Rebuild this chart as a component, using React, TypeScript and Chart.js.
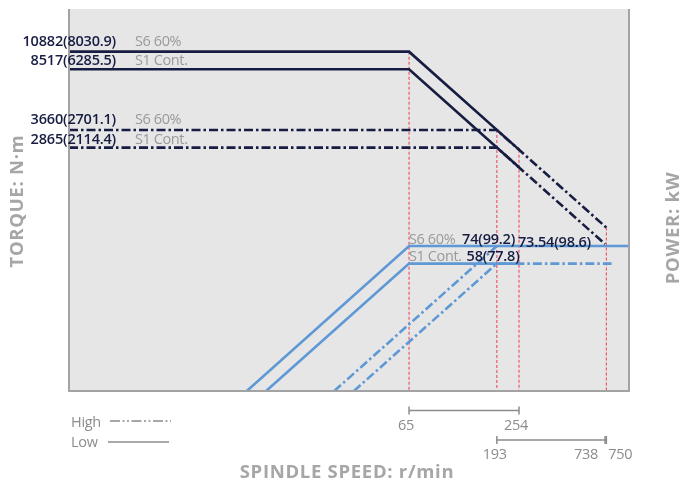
import React, { useEffect, useRef } from "react";
import { Chart, registerables } from "chart.js";
Chart.register(...registerables);

// axis ranges (log-log schematic)
const SPEED_MIN = 0.96;
const SPEED_MAX = 993;
const TORQUE_MIN = 97;
const TORQUE_MAX = 19700;
const POWER_MIN = 9.86;
const POWER_MAX = 2000;

// torque curves: [speed r/min, torque N·m]
const lowTorqueS6 = [[SPEED_MIN, 10882], [65, 10882], [254, 2785]];
const lowTorqueS1 = [[SPEED_MIN, 8517], [65, 8517], [254, 2180]];
const highTorqueS6 = [[SPEED_MIN, 3660], [193, 3660], [750, 942]];
const highTorqueS1 = [[SPEED_MIN, 2865], [193, 2865], [738, 749]];

// power curves: [speed r/min, power kW]
const lowPowerS6 = [[8.7, POWER_MIN], [65, 74], [SPEED_MAX, 74]];
const lowPowerS1 = [[11.05, POWER_MIN], [65, 58], [254, 58]];
const highPowerS6 = [[25.7, POWER_MIN], [193, 74]];
const highPowerS1 = [[32.8, POWER_MIN], [193, 58], [800, 58]];

// torque labels
const torqueLabelValues = [10882, 8517, 3660, 2865];
const torqueLabelTexts = ["10882(8030.9)", "8517(6285.5)", "3660(2701.1)", "2865(2114.4)"];
const dutyLabels = ["S6 60%", "S1 Cont.", "S6 60%", "S1 Cont."];

// power labels
const powerLabelValues = [74, 58];
const powerLabelTexts = ["74(99.2)", "58(77.8)"];
const powerDuty = ["S6 60%", "S1 Cont."];
const powerHighLabel = "73.54(98.6)";

// speed ticks
const lowRange = [65, 254];
const highRange = [193, 738, 750];

const NAVY = "#171c42";
const BLUE = "#5e99d6";
const RED = "rgba(236,60,82,0.9)";
const GRAY_TEXT = "#9a9a9a";
const DASHDOT = [9, 3, 2.5, 3];
const FONT = "'Open Sans'";

const toPts = (arr: number[][]) => arr.map(([x, y]) => ({ x, y }));

export default function App() {
  const ref = useRef<HTMLCanvasElement | null>(null);
  useEffect(() => {
    const canvas = ref.current!;
    const line = (data: number[][], color: string, axis: string, dash: number[] = [], width = 2.6) => ({
      data: toPts(data),
      borderColor: color,
      borderWidth: width,
      borderDash: dash,
      pointRadius: 0,
      fill: false,
      tension: 0,
      yAxisID: axis,
      borderCapStyle: "butt" as const,
    });
    const red = (speed: number, top: number) =>
      line([[speed, top], [speed, TORQUE_MIN]], RED, "yT", [3, 2], 1.1);

    const deco = {
      id: "deco",
      beforeDatasetsDraw(chart: any) {
        const { ctx, chartArea: a } = chart;
        ctx.save();
        ctx.fillStyle = "#e6e6e6";
        ctx.fillRect(a.left, a.top, a.right - a.left, a.bottom - a.top);
        ctx.restore();
      },
      afterDatasetsDraw(chart: any) {
        const { ctx, chartArea: a } = chart;
        ctx.save();
        ctx.strokeStyle = "#a3a3a3";
        ctx.lineWidth = 2;
        ctx.beginPath();
        ctx.moveTo(a.left, a.top);
        ctx.lineTo(a.left, a.bottom);
        ctx.lineTo(a.right, a.bottom);
        ctx.lineTo(a.right, a.top);
        ctx.stroke();
        ctx.restore();
      },
      afterDraw(chart: any) {
        const { ctx } = chart;
        const xs = chart.scales.x;
        const yT = chart.scales.yT;
        const yP = chart.scales.yP;
        const setLS = (v: string) => ((ctx as any).letterSpacing = v);
        ctx.save();
        ctx.textBaseline = "middle";
        // torque labels
        torqueLabelValues.forEach((v, i) => {
          const y = yT.getPixelForValue(v) - (i % 2 === 0 ? 10 : 8);
          ctx.font = `600 14.5px ${FONT}`;
          setLS("-0.2px");
          ctx.fillStyle = NAVY;
          ctx.textAlign = "right";
          ctx.fillText(torqueLabelTexts[i], 116, y);
          ctx.font = `400 14.5px ${FONT}`;
          setLS("-0.4px");
          ctx.fillStyle = GRAY_TEXT;
          ctx.textAlign = "left";
          ctx.fillText(dutyLabels[i], 135, y);
        });
        // power labels
        const x65 = xs.getPixelForValue(65);
        powerLabelValues.forEach((v, i) => {
          const y = yP.getPixelForValue(v) - (i === 0 ? 6 : 7);
          ctx.textAlign = "left";
          ctx.font = `400 14.5px ${FONT}`;
          setLS("-0.4px");
          ctx.fillStyle = GRAY_TEXT;
          ctx.fillText(powerDuty[i], x65, y);
          const w = ctx.measureText(powerDuty[i]).width;
          ctx.font = `600 14.5px ${FONT}`;
          setLS("-0.2px");
          ctx.fillStyle = NAVY;
          ctx.fillText(powerLabelTexts[i], Math.max(x65 + 53, x65 + w + 5), y);
        });
        ctx.font = `600 14.5px ${FONT}`;
        ctx.fillStyle = NAVY;
        ctx.fillText(powerHighLabel, xs.getPixelForValue(254) - 1, yP.getPixelForValue(74) - 3);
        setLS("0px");

        // speed brackets
        ctx.strokeStyle = "#8c8c8c";
        ctx.fillStyle = "#8c8c8c";
        ctx.lineWidth = 1.5;
        const bracket = (x1: number, x2: number, y: number) => {
          ctx.beginPath();
          ctx.moveTo(x1, y);
          ctx.lineTo(x2, y);
          ctx.moveTo(x1, y - 4);
          ctx.lineTo(x1, y + 4);
          ctx.moveTo(x2, y - 4);
          ctx.lineTo(x2, y + 4);
          ctx.stroke();
        };
        const b1 = lowRange.map((v) => xs.getPixelForValue(v));
        bracket(b1[0], b1[1], 410.5);
        const b2 = highRange.map((v) => xs.getPixelForValue(v));
        bracket(b2[0], b2[2], 440);
        ctx.beginPath();
        ctx.moveTo(b2[1], 436);
        ctx.lineTo(b2[1], 444);
        ctx.stroke();
        ctx.font = `400 14.5px ${FONT}`;
        setLS("-0.3px");
        ctx.textAlign = "center";
        ctx.fillText(String(lowRange[0]), b1[0] - 3, 426);
        ctx.fillText(String(lowRange[1]), b1[1] - 3, 426);
        ctx.fillText(String(highRange[0]), b2[0] - 2, 455);
        ctx.textAlign = "right";
        ctx.fillText(String(highRange[1]), b2[1] - 7, 455);
        ctx.textAlign = "left";
        ctx.fillText(String(highRange[2]), b2[2] + 2, 455);

        // legend
        ctx.font = `500 14.5px ${FONT}`;
        ctx.fillStyle = "#8c8c8c";
        ctx.textAlign = "left";
        ctx.fillText("High", 71, 423);
        ctx.fillText("Low", 71, 443);
        setLS("0px");
        ctx.lineWidth = 1.5;
        ctx.setLineDash([10, 2.5, 2, 2.5, 2, 2.5]);
        ctx.beginPath();
        ctx.moveTo(110, 421);
        ctx.lineTo(171, 421);
        ctx.stroke();
        ctx.setLineDash([]);
        ctx.beginPath();
        ctx.moveTo(108, 442);
        ctx.lineTo(169, 442);
        ctx.stroke();

        // axis titles
        ctx.font = `700 18.5px ${FONT}`;
        ctx.fillStyle = "#a6a6a6";
        setLS("0.7px");
        ctx.textAlign = "center";
        ctx.fillText("SPINDLE SPEED: r/min", 347, 473);
        ctx.save();
        ctx.translate(18, 201);
        ctx.rotate(-Math.PI / 2);
        ctx.fillText("TORQUE: N·m", 0, 0);
        ctx.restore();
        ctx.save();
        ctx.translate(674, 228);
        ctx.rotate(-Math.PI / 2);
        ctx.fillText("POWER: kW", 0, 0);
        ctx.restore();
        setLS("0px");
        ctx.restore();
      },
    };

    const chart = new Chart(canvas, {
      type: "line",
      data: {
        datasets: [
          line(lowTorqueS6, NAVY, "yT"),
          line(lowTorqueS1, NAVY, "yT"),
          line(lowPowerS6, BLUE, "yP"),
          line(lowPowerS1, BLUE, "yP"),
          line(highTorqueS6, NAVY, "yT", DASHDOT),
          line(highTorqueS1, NAVY, "yT", DASHDOT),
          line(highPowerS6, BLUE, "yP", DASHDOT),
          line(highPowerS1, BLUE, "yP", DASHDOT),
          red(65, lowTorqueS6[1][1]),
          red(193, highTorqueS6[1][1]),
          red(254, lowTorqueS6[2][1]),
          red(750, highTorqueS6[2][1]),
        ] as any,
      },
      options: {
        animation: false,
        responsive: false,
        devicePixelRatio: 1,
        layout: { padding: { left: 69, top: 9, right: 54, bottom: 98 } },
        plugins: { legend: { display: false }, tooltip: { enabled: false } },
        events: [],
        scales: {
          x: { type: "logarithmic", min: SPEED_MIN, max: SPEED_MAX, display: false, bounds: "data" },
          yT: { type: "logarithmic", position: "left", min: TORQUE_MIN, max: TORQUE_MAX, display: false, bounds: "data" },
          yP: { type: "logarithmic", position: "right", min: POWER_MIN, max: POWER_MAX, display: false, bounds: "data" },
        },
      } as any,
      plugins: [deco],
    });
    return () => chart.destroy();
  }, []);
  return (
    <div style={{ position: "absolute", left: 0, top: 0, width: 683, height: 489, background: "#fff" }}>
      <canvas ref={ref} width={683} height={489} style={{ display: "block" }} />
    </div>
  );
}
